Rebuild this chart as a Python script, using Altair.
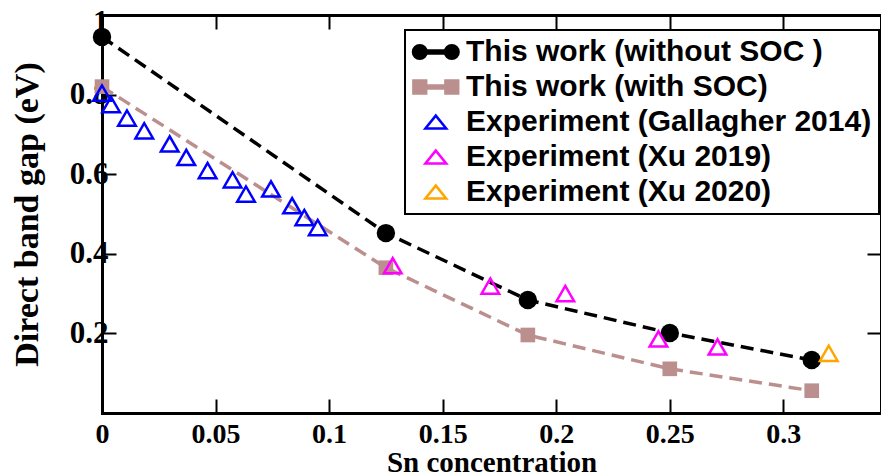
import altair as alt
import pandas as pd

# ---------------- data ----------------
names = [
    "This work (without SOC )",
    "This work (with SOC)",
    "Experiment (Gallagher 2014)",
    "Experiment (Xu 2019)",
    "Experiment (Xu 2020)",
]

conc_calc = [0.0, 0.125, 0.1875, 0.25, 0.3125]
gap_no_soc = [0.945, 0.452, 0.284, 0.201, 0.133]
gap_soc = [0.820, 0.365, 0.196, 0.111, 0.056]

gal_x = [0.0, 0.004, 0.011, 0.0186, 0.0298, 0.0371, 0.0465, 0.0575, 0.0634,
         0.0744, 0.0837, 0.0891, 0.0950]
gal_y = [0.804, 0.775, 0.741, 0.709, 0.676, 0.642, 0.609, 0.586, 0.550,
         0.563, 0.521, 0.491, 0.466]

xu19_x = [0.128, 0.171, 0.204, 0.245, 0.271]
xu19_y = [0.370, 0.319, 0.300, 0.186, 0.166]

xu20_x = [0.320]
xu20_y = [0.150]

x_ticks = [0, 0.05, 0.1, 0.15, 0.2, 0.25, 0.3]
y_ticks = [0.2, 0.4, 0.6, 0.8, 1.0]

# ---------------- styles ----------------
colors = ["#000000", "#BC8F8F", "#0000FF", "#FF00FF", "#FFA500"]
fills = ["#000000", "#BC8F8F", "transparent", "transparent", "transparent"]

SERIF = "Liberation Serif"
SANS = "Liberation Sans"

# ---------------- table ----------------
series_xy = [
    (names[0], conc_calc, gap_no_soc),
    (names[1], conc_calc, gap_soc),
    (names[2], gal_x, gal_y),
    (names[3], xu19_x, xu19_y),
    (names[4], xu20_x, xu20_y),
]
rows = []
for nm, xs, ys in series_xy:
    for x, y in zip(xs, ys):
        rows.append({"x": x, "y": y, "series": nm})
pts = pd.DataFrame(rows)

XDOM = [0, 0.343]
YDOM = [0, 1]

# legend glyphs (custom symbol paths; 1 unit = sqrt(symbolSize)/2 px)
circ_glyph = ("M-1.75,0A0.85,0.85,0,1,0,-0.05,0A0.85,0.85,0,1,0,-1.75,0Z"
              "M-0.05,-0.18L2.25,-0.18L2.25,0.18L-0.05,0.18Z"
              "M2.25,0A0.85,0.85,0,1,0,3.95,0A0.85,0.85,0,1,0,2.25,0Z")
sq_glyph = ("M-1.7,-0.8L-0.1,-0.8L-0.1,0.8L-1.7,0.8Z"
            "M-0.1,-0.18L2.3,-0.18L2.3,0.18L-0.1,0.18Z"
            "M2.3,-0.8L3.9,-0.8L3.9,0.8L2.3,0.8Z")
tri_glyph = "M1.1,-0.8L2.4,0.8L-0.2,0.8Z"
glyphs = [circ_glyph, sq_glyph, tri_glyph, tri_glyph, tri_glyph]

legend = alt.Legend(
    title=None, orient="none", legendX=303, legendY=15,
    padding=7, rowPadding=5,
    labelFont=SANS, labelFontWeight="bold", labelFontSize=30, labelColor="black",
    labelLimit=800, labelOffset=24,
    symbolSize=256, symbolStrokeWidth=2.5, symbolOpacity=1,
    fillColor="white",
)


def xenc(axis):
    return alt.X("x:Q", scale=alt.Scale(domain=XDOM, nice=False, zero=False), axis=axis)


def yenc(axis):
    return alt.Y("y:Q", scale=alt.Scale(domain=YDOM, nice=False), axis=axis)


x_axis = alt.Axis(
    orient="bottom", values=x_ticks, format=".2~f", grid=False,
    labelFont=SERIF, labelFontWeight="bold", labelFontSize=28, labelColor="black",
    labelPadding=21, labelFlush=False,
    domainColor="black", domainWidth=3, domainCap="square",
    tickColor="black", tickWidth=2, tickSize={"expr": "-14"},
    title="Sn concentration", titleFont=SERIF, titleFontWeight="bold",
    titleFontSize=29, titleColor="black",
    titleY=58, titleBaseline="alphabetic",
)
y_axis = alt.Axis(
    orient="left", values=y_ticks, format=".2~f", grid=False,
    labelFont=SERIF, labelFontWeight="bold", labelFontSize=31, labelColor="black",
    labelPadding=8, labelFlush=False,
    labelOffset=alt.condition("datum.value == 1", alt.value(7), alt.value(0)),
    domainColor="black", domainWidth=3, domainCap="square",
    tickColor="black", tickWidth=2, tickSize={"expr": "-14"},
    title="Direct band gap (eV)", titleFont=SERIF, titleFontWeight="bold",
    titleFontSize=34, titleColor="black",
    titleX=-65, titleY=199, titleAngle=270, titleAlign="center",
    titleBaseline="alphabetic",
)

base = alt.Chart(pts)

line_layers = []
for i in range(2):
    line_layers.append(
        base.transform_filter(alt.datum.series == names[i])
        .mark_line(color=colors[i], strokeDash=[13, 7], strokeWidth=3.5)
        .encode(x=xenc(x_axis), y=yenc(y_axis), order="x:Q")
    )

# invisible layer that only carries the legend
legend_layer = base.mark_point(opacity=0, filled=False).encode(
    x=xenc(x_axis), y=yenc(y_axis),
    fill=alt.Fill("series:N", scale=alt.Scale(domain=names, range=fills), legend=legend),
    stroke=alt.Stroke("series:N", scale=alt.Scale(domain=names, range=colors), legend=legend),
    shape=alt.Shape("series:N", scale=alt.Scale(domain=names, range=glyphs), legend=legend),
)

marker_layers = [
    base.transform_filter(alt.datum.series == names[0])
    .mark_point(shape="circle", filled=True, color=colors[0], size=340, opacity=1)
    .encode(x=xenc(x_axis), y=yenc(y_axis)),
    base.transform_filter(alt.datum.series == names[1])
    .mark_point(shape="square", filled=True, color=colors[1], size=215, opacity=1)
    .encode(x=xenc(x_axis), y=yenc(y_axis)),
]
for i in range(2, 5):
    marker_layers.append(
        base.transform_filter(alt.datum.series == names[i])
        .mark_point(shape="triangle-up", filled=False, color=colors[i], size=310,
                    strokeWidth=2.5, opacity=1)
        .encode(x=xenc(x_axis), y=yenc(y_axis))
    )

mirror = base.mark_point(opacity=0).encode(
    x=xenc(alt.Axis(orient="top", values=x_ticks, labels=False, title=None, grid=False,
                    domainColor="black", domainWidth=3, domainCap="square",
                    tickColor="black", tickWidth=2, tickSize={"expr": "-14"})),
    y=yenc(alt.Axis(orient="right", values=y_ticks, labels=False, title=None, grid=False,
                    domainColor="black", domainWidth=3, domainCap="square",
                    tickColor="black", tickWidth=2, tickSize={"expr": "-14"})),
)

inner = alt.layer(*line_layers, legend_layer, *marker_layers)

chart = alt.layer(inner, mirror).resolve_scale(
    x="independent", y="independent"
).properties(
    width=779, height=398,
    autosize=alt.AutoSizeParams(type="none"),
    padding={"left": 94, "top": 7, "right": 0, "bottom": 60},
    background="white",
).configure_view(stroke=None).configure_legend(
    strokeColor="black", strokeWidth=2
)

chart.save("out.html", embed_options={"renderer": "svg", "actions": False})
